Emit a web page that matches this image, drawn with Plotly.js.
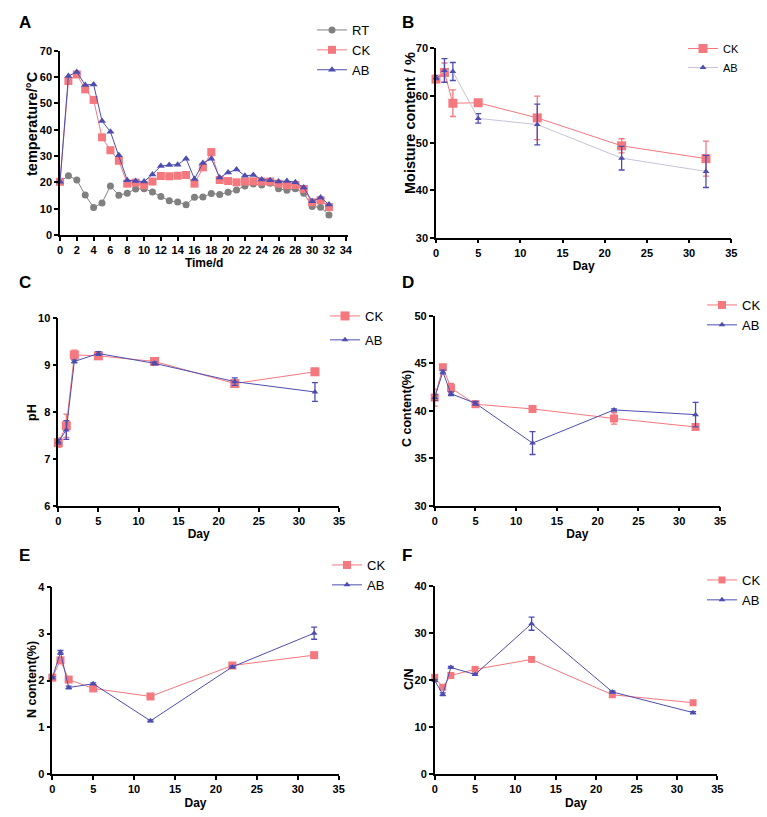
<!DOCTYPE html>
<html>
<head>
<meta charset="utf-8">
<script src="https://cdn.plot.ly/plotly-3.0.1.min.js"></script>
<style>
  html, body { margin: 0; padding: 0; background: #fff; }
  #chart { width: 767px; height: 817px; }
</style>
</head>
<body>
<div id="chart"></div>
<script>
// A: temperature over time
var tempDays = [0, 1, 2, 3, 4, 5, 6, 7, 8, 9, 10, 11, 12, 13, 14, 15, 16, 17, 18, 19, 20, 21, 22, 23, 24, 25, 26, 27, 28, 29, 30, 31, 32];
var tempRT = [20.2, 22.5, 20.9, 15.2, 10.4, 12.2, 18.6, 15.1, 15.9, 17.5, 17.6, 16.3, 14.6, 13.0, 12.5, 11.5, 14.3, 14.4, 15.8, 15.4, 16.2, 17.1, 18.6, 19.4, 19.0, 19.7, 17.6, 17.0, 17.6, 15.9, 10.8, 10.5, 7.6];
var tempCK = [20.2, 58.5, 61.0, 55.3, 51.3, 37.1, 32.2, 28.2, 19.5, 19.9, 18.9, 20.3, 22.4, 22.3, 22.5, 22.8, 19.5, 25.7, 31.5, 20.9, 20.5, 20.0, 20.3, 20.4, 20.3, 20.3, 19.5, 18.9, 19.0, 17.5, 12.4, 13.2, 10.6];
var tempAB = [20.2, 60.4, 61.9, 57.0, 57.2, 43.3, 39.2, 30.3, 20.8, 20.5, 20.3, 23.0, 26.2, 26.6, 26.7, 29.0, 21.3, 27.3, 29.0, 21.8, 23.7, 24.9, 22.5, 22.8, 21.1, 20.8, 20.3, 20.5, 20.0, 18.0, 12.8, 14.2, 11.6];

// B-F sampling days
var sampleDays = [0, 1, 2, 5, 12, 22, 32];

// B: moisture content
var moistCK = [63.5, 64.9, 58.4, 58.5, 55.3, 49.4, 46.7];
var moistCKErr = [0.5, 2.0, 2.8, 0.4, 4.6, 1.5, 3.7];
var moistAB = [63.8, 65.3, 65.1, 55.2, 53.9, 46.8, 44.0];
var moistABErr = [0.4, 2.5, 1.9, 1.0, 4.3, 2.5, 3.4];

// C: pH
var phCK = [7.35, 7.71, 9.22, 9.20, 9.08, 8.61, 8.86];
var phCKErr = [0.1, 0.25, 0.1, 0.06, 0.03, 0.05, 0.07];
var phAB = [7.37, 7.62, 9.08, 9.25, 9.04, 8.65, 8.43];
var phABErr = [0.05, 0.2, 0.03, 0.04, 0.03, 0.08, 0.2];

// D: C content
var cCK = [41.4, 44.6, 42.4, 40.7, 40.2, 39.2, 38.3];
var cCKErr = [0.9, 0.2, 0.5, 0.1, 0.1, 0.6, 0.2];
var cAB = [41.4, 44.1, 41.8, 40.8, 36.6, 40.1, 39.6];
var cABErr = [0.3, 0.2, 0.2, 0.2, 1.2, 0.1, 1.3];

// E: N content
var nCK = [2.06, 2.43, 2.02, 1.83, 1.66, 2.32, 2.54];
var nCKErr = [0.02, 0.03, 0.02, 0.02, 0.02, 0.03, 0.02];
var nAB = [2.06, 2.60, 1.85, 1.93, 1.14, 2.29, 3.01];
var nABErr = [0.02, 0.04, 0.03, 0.02, 0.02, 0.02, 0.13];

// F: C/N
var cnCK = [20.6, 18.5, 21.0, 22.3, 24.4, 16.9, 15.2];
var cnCKErr = [0.3, 0.2, 0.2, 0.2, 0.2, 0.2, 0.1];
var cnAB = [19.9, 17.0, 22.7, 21.2, 32.0, 17.5, 13.1];
var cnABErr = [0.2, 0.3, 0.2, 0.2, 1.4, 0.2, 0.2];

var pink = '#f4787e';
var blue = '#4d4db1';
var grey = '#808080';
var lightAB = '#c4c4d8';
var font = 'Liberation Sans, Arial, sans-serif';

var W = 767, H = 817;
function px(x) { return x / W; }
function py(y) { return 1 - y / H; }

function errTrace(x, y, err, name, color, lineColor, symbol, size, xa, ya, leg) {
    return {
        x: x, y: y, name: name, type: 'scatter', mode: 'lines+markers',
        xaxis: xa, yaxis: ya, legend: leg, legendgroup: leg + name, cliponaxis: false,
        line: {color: lineColor, width: 1},
        marker: {color: color, symbol: symbol, size: size},
        error_y: err ? {type: 'data', array: err, visible: true, color: color, thickness: 1.3, width: 3} : undefined
    };
}

var data = [
    errTrace(tempDays, tempRT, null, 'RT', grey, grey, 'circle', 7, 'x', 'y', 'legend'),
    errTrace(tempDays, tempCK, null, 'CK', pink, pink, 'square', 8, 'x', 'y', 'legend'),
    errTrace(tempDays, tempAB, null, 'AB', blue, blue, 'triangle-up', 7, 'x', 'y', 'legend'),

    errTrace(sampleDays, moistCK, moistCKErr, 'CK', pink, pink, 'square', 9, 'x2', 'y2', 'legend2'),
    errTrace(sampleDays, moistAB, moistABErr, 'AB', blue, lightAB, 'triangle-up', 6, 'x2', 'y2', 'legend2'),

    errTrace(sampleDays, phCK, phCKErr, 'CK', pink, pink, 'square', 9, 'x3', 'y3', 'legend3'),
    errTrace(sampleDays, phAB, phABErr, 'AB', blue, blue, 'triangle-up', 6, 'x3', 'y3', 'legend3'),

    errTrace(sampleDays, cCK, cCKErr, 'CK', pink, pink, 'square', 8, 'x4', 'y4', 'legend4'),
    errTrace(sampleDays, cAB, cABErr, 'AB', blue, blue, 'triangle-up', 6, 'x4', 'y4', 'legend4'),

    errTrace(sampleDays, nCK, nCKErr, 'CK', pink, pink, 'square', 8, 'x5', 'y5', 'legend5'),
    errTrace(sampleDays, nAB, nABErr, 'AB', blue, blue, 'triangle-up', 6, 'x5', 'y5', 'legend5'),

    errTrace(sampleDays, cnCK, cnCKErr, 'CK', pink, pink, 'square', 7, 'x6', 'y6', 'legend6'),
    errTrace(sampleDays, cnAB, cnABErr, 'AB', blue, blue, 'triangle-up', 6, 'x6', 'y6', 'legend6')
];

function xAxis(x0, x1, range, dtick, title, anchor) {
    return {
        domain: [px(x0), px(x1)], range: range, dtick: dtick, anchor: anchor,
        showline: true, linecolor: '#000', linewidth: 1.5, showgrid: false, zeroline: false,
        ticks: 'outside', ticklen: 4, tickwidth: 1.5, tickcolor: '#000',
        tickfont: {family: font, size: 11, color: '#000', weight: 'bold'},
        title: {text: title, standoff: 4, font: {family: font, size: 12, color: '#000', weight: 'bold'}}
    };
}
function yAxis(y0, y1, range, dtick, anchor) {
    return {
        domain: [py(y0), py(y1)], range: range, dtick: dtick, anchor: anchor,
        showline: true, linecolor: '#000', linewidth: 1.5, showgrid: false, zeroline: false,
        ticks: 'outside', ticklen: 4, tickwidth: 1.5, tickcolor: '#000',
        tickfont: {family: font, size: 11, color: '#000', weight: 'bold'}
    };
}
function legendAt(x, y, size, gap) {
    return {
        x: px(x), y: py(y), xanchor: 'left', yanchor: 'top',
        bgcolor: 'rgba(0,0,0,0)', font: {family: font, size: size, color: '#000'},
        traceorder: 'grouped', tracegroupgap: gap
    };
}
function letter(text, x, y) {
    return {
        text: text, x: px(x), y: py(y), xref: 'paper', yref: 'paper',
        xanchor: 'left', yanchor: 'middle', showarrow: false,
        font: {family: font, size: 17, color: '#000', weight: 'bold'}
    };
}
function yTitle(text, x, y, size) {
    return {
        text: text, x: px(x), y: py(y), xref: 'paper', yref: 'paper',
        xanchor: 'center', yanchor: 'middle', textangle: -90, showarrow: false,
        font: {family: font, size: size, color: '#000', weight: 'bold'}
    };
}

var layout = {
    width: W, height: H,
    margin: {l: 0, r: 0, t: 0, b: 0},
    paper_bgcolor: '#fff', plot_bgcolor: '#fff',
    showlegend: true,
    xaxis: xAxis(60, 348.3, [0, 34.3], 2, 'Time/d', 'y'),
    yaxis: yAxis(235, 50.7, [0, 70], 10, 'x'),
    xaxis2: xAxis(436, 731.3, [0, 35], 5, 'Day', 'y2'),
    yaxis2: yAxis(237.7, 48.3, [30, 70], 10, 'x2'),
    xaxis3: xAxis(58.3, 339, [0, 35], 5, 'Day', 'y3'),
    yaxis3: yAxis(506, 318.3, [6, 10], 1, 'x3'),
    xaxis4: xAxis(434.7, 720, [0, 35], 5, 'Day', 'y4'),
    yaxis4: yAxis(505.7, 316, [30, 50], 5, 'x4'),
    xaxis5: xAxis(52.3, 338.7, [0, 35], 5, 'Day', 'y5'),
    yaxis5: yAxis(774.3, 586.7, [0, 4], 1, 'x5'),
    xaxis6: xAxis(434.7, 717.3, [0, 35], 5, 'Day', 'y6'),
    yaxis6: yAxis(774.3, 586, [0, 40], 10, 'x6'),
    legend: legendAt(312, 15, 13, 0),
    legend2: legendAt(683, 34, 11, 0),
    legend3: legendAt(325, 301, 13, 4),
    legend4: legendAt(702, 290, 13, 0),
    legend5: legendAt(327, 550, 13, 0),
    legend6: legendAt(702, 565, 13, 0),
    annotations: [
        letter('A', 17, 23),
        letter('B', 400, 23),
        letter('C', 17, 282),
        letter('D', 400, 282),
        letter('E', 17, 555),
        letter('F', 400, 555),
        yTitle('temperature/°C', 32, 124, 14.5),
        yTitle('Moisture content / %', 410, 123, 14.5),
        yTitle('pH', 32, 413, 12.5),
        yTitle('C content(%)', 407, 409, 12.5),
        yTitle('N content(%)', 32, 680, 12.5),
        yTitle('C/N', 409, 679, 12.5)
    ]
};

Plotly.newPlot('chart', data, layout, {displayModeBar: false, responsive: false});
</script>
</body>
</html>
